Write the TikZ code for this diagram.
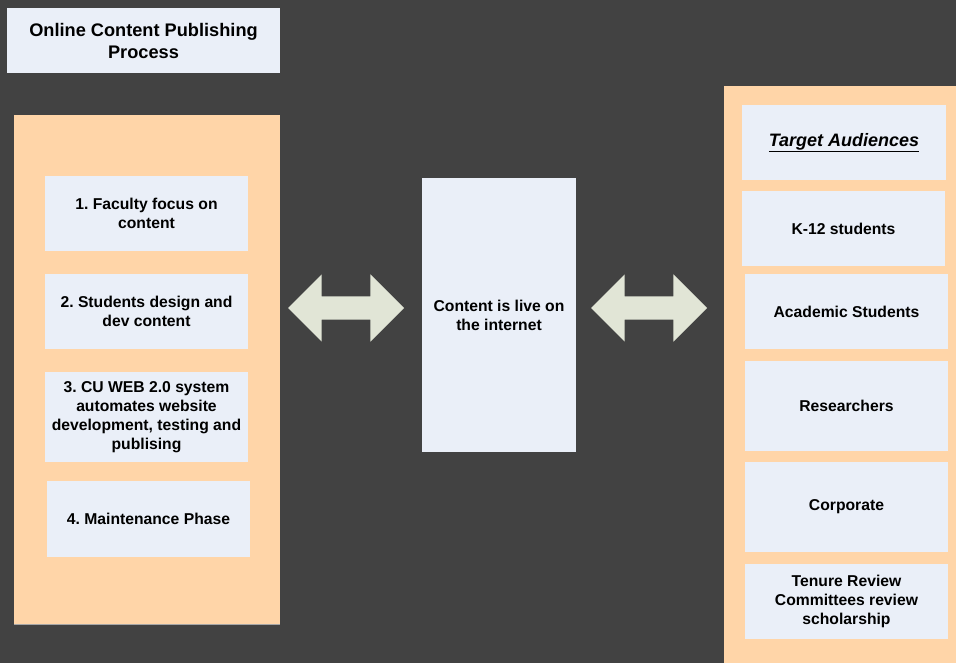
\documentclass[tikz,border=0pt]{standalone}
\usepackage{fontspec}
\setmainfont{Liberation Sans}
\usepackage{xcolor}
\usetikzlibrary{shapes.arrows}
\frenchspacing
\definecolor{SlateBg}{RGB}{66,66,66}
\definecolor{PeachPanel}{RGB}{255,213,168}
\definecolor{PaleBox}{RGB}{234,239,248}
\definecolor{ArrowSage}{RGB}{225,229,214}
\tikzset{
  panel/.style={fill=PeachPanel, draw=none},
  cbox/.style={fill=PaleBox, draw=none, inner sep=2pt, align=center,
    font=\fontsize{15.7}{19}\selectfont\bfseries},
  titlebox/.style={cbox, font=\fontsize{18.2}{22}\selectfont\bfseries},
  headbox/.style={cbox, font=\fontsize{18}{22}\selectfont\bfseries},
  dblarr/.style={shape=double arrow, fill=ArrowSage, draw=none, inner xsep=0pt, inner ysep=11.5pt,
    minimum height=116pt, minimum width=67pt, double arrow head extend=22pt},
}

\begin{document}
\begin{tikzpicture}[x=1pt, y=-1pt]
    \useasboundingbox (0,0) rectangle (956,663);
    \fill[SlateBg] (0,0) rectangle (956,663);
    % title
    \node[titlebox, minimum width=273pt, minimum height=65pt] (title) at (143.5,40.5)
      {Online Content Publishing\\Process};
    % left column: process steps
    \fill[panel] (14,115) rectangle (280,624);
    \draw[gray!70, thin] (14,624) -- (280,624);
    \foreach \n/\x/\y/\h/\t in {
        s1/146.5/213.5/75/{1. Faculty focus on\\content},
        s2/146.5/311.5/75/{2. Students design and\\dev content},
        s3/146.5/417/90/{3. CU WEB 2.0 system\\automates website\\development, testing and\\publising},
        s4/148.5/519/76/{4. Maintenance Phase}} {
      \node[cbox, minimum width=203pt, minimum height=\h pt] (\n) at (\x,\y) {\t};
    }
    % middle
    \node[cbox, minimum width=154pt, minimum height=274pt] (live) at (499,315)
      {Content is live on\\the internet};
    \node[dblarr] (larr) at (346,308) {};
    \node[dblarr] (rarr) at (649,308) {};
    % right column: audiences
    \fill[panel] (724,86) rectangle (960,670);
    \node[headbox, minimum width=204pt, minimum height=75pt] (aud) at (844,142.5)
      {\underline{\textit{Target Audiences}}};
    \foreach \n/\x/\y/\h/\t in {
        a1/843.5/228.5/75/{K-12 students},
        a2/846.5/311.5/75/{Academic Students},
        a3/846.5/406/90/{Researchers},
        a4/846.5/507/90/{Corporate},
        a5/846.5/601.5/75/{Tenure Review\\Committees review\\scholarship}} {
      \node[cbox, minimum width=203pt, minimum height=\h pt] (\n) at (\x,\y) {\t};
    }
\end{tikzpicture}
\end{document}
